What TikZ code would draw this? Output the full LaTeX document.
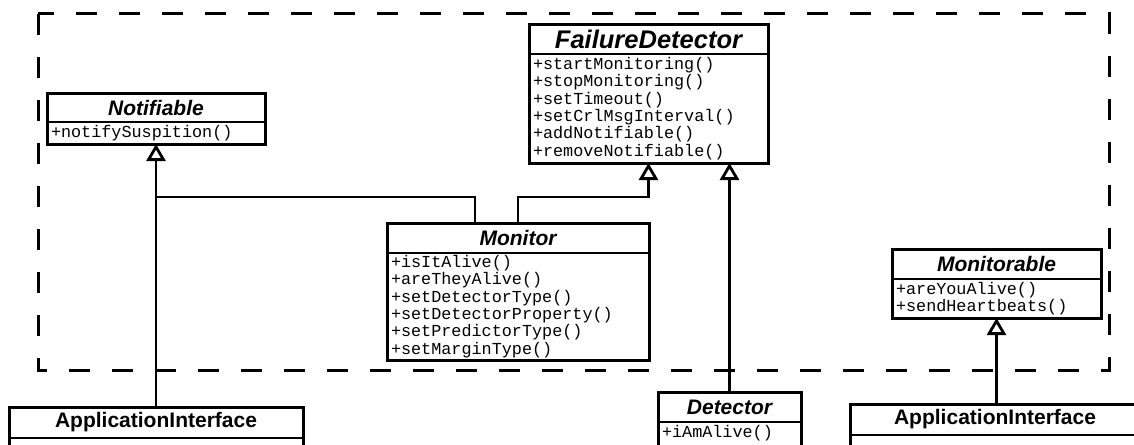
\documentclass[tikz,border=0pt]{standalone}
\usepackage{fontspec}
\setmainfont{Liberation Sans}
\newfontfamily\umlmono{Liberation Mono}
\usetikzlibrary{arrows.meta,calc}
\newcommand\umlhdrfont{\fontsize{21}{25}\selectfont\bfseries\itshape}
\newcommand\umlbighdr{\fontsize{25.5}{29}\selectfont\bfseries\itshape}
\newcommand\umlplainhdr{\fontsize{21}{25}\selectfont\bfseries}
\newcommand\umlmethfont{\umlmono\fontsize{16.8}{17.3}\selectfont}
\tikzset{
  hdr/.style={font=\umlhdrfont, inner sep=0pt, outer sep=0pt, anchor=north west},
  plainhdr/.style={font=\umlplainhdr, inner sep=0pt, outer sep=0pt, anchor=north west},
  meth/.style={font=\umlmethfont, align=left, inner xsep=4pt, inner ysep=0pt, outer sep=0pt, anchor=north west},
  frame/.style={line width=3pt},
  sep/.style={line width=2pt},
  gen/.style={line width=2.8pt, -{Triangle[open, length=17pt, width=19pt]}},
  link/.style={line width=2.8pt},
  dashframe/.style={line width=3pt, dash pattern=on 21pt off 22pt}
}
\begin{document}
\begin{tikzpicture}[x=1pt,y=-1pt]
\useasboundingbox (0,0) rectangle (1134,444);
\clip (0,0) rectangle (1134,444);
\fill[white] (0,0) rectangle (1134,444);

% package frame
\draw[dashframe] (38,14) rectangle (1109,370);

% Notifiable
\node[hdr, minimum width=218pt, minimum height=29pt] (notH) at (47,93) {Notifiable};
\node[meth, text width=210pt, minimum height=22pt] (notM) at (notH.south west) {+notifySuspition()};
\draw[frame] (notH.north west) rectangle (notM.south east);
\draw[sep] (notH.south west) -- (notH.south east);

% FailureDetector
\node[hdr, font=\umlbighdr, minimum width=239pt, minimum height=29pt] (fdH) at (529,25) {FailureDetector};
\node[meth, text width=231pt, minimum height=109pt] (fdM) at (fdH.south west) {+startMonitoring()\\+stopMonitoring()\\+setTimeout()\\+setCrlMsgInterval()\\+addNotifiable()\\+removeNotifiable()};
\draw[frame] (fdH.north west) rectangle (fdM.south east);
\draw[sep] (fdH.south west) -- (fdH.south east);

% Monitor
\node[hdr, minimum width=262pt, minimum height=30pt] (monH) at (387,223) {Monitor};
\node[meth, text width=254pt, minimum height=107pt] (monM) at (monH.south west) {+isItAlive()\\+areTheyAlive()\\+setDetectorType()\\+setDetectorProperty()\\+setPredictorType()\\+setMarginType()};
\draw[frame] (monH.north west) rectangle (monM.south east);
\draw[sep] (monH.south west) -- (monH.south east);

% Monitorable
\node[hdr, minimum width=209pt, minimum height=30pt] (monbH) at (892,249) {Monitorable};
\node[meth, text width=201pt, minimum height=39pt] (monbM) at (monbH.south west) {+areYouAlive()\\+sendHeartbeats()};
\draw[frame] (monbH.north west) rectangle (monbM.south east);
\draw[sep] (monbH.south west) -- (monbH.south east);

% ApplicationInterface (left)
\node[plainhdr, minimum width=294pt, minimum height=31pt] (appLH) at (9,407) {ApplicationInterface};
\node[meth, text width=286pt, minimum height=40pt] (appLM) at (appLH.south west) {};
\draw[frame] (appLH.north west) rectangle (appLM.south east);
\draw[sep] (appLH.south west) -- (appLH.south east);

% Detector
\node[hdr, minimum width=143pt, minimum height=30pt] (detH) at (658,392) {Detector};
\node[meth, text width=135pt, minimum height=22pt] (detM) at (detH.south west) {+iAmAlive()};
\draw[frame] (detH.north west) rectangle ($(detM.south east)+(0,30)$);
\draw[sep] (detH.south west) -- (detH.south east);

% ApplicationInterface (right)
\node[plainhdr, minimum width=290pt, minimum height=31pt] (appRH) at (850,404) {ApplicationInterface};
\node[meth, text width=282pt, minimum height=40pt] (appRM) at (appRH.south west) {};
\draw[frame] (appRH.north west) rectangle (appRM.south east);
\draw[sep] (appRH.south west) -- (appRH.south east);

% connectors
\coordinate (junc) at ($(notM.south)+(0,53)$);
\draw[gen] (appLH.north) -- (notM.south);
\draw[link] ($(monH.north west)+(88,0)$) |- (junc);
\draw[gen] ($(monH.north west)+(131,0)$) |- ($(fdM.south)+(0,34)$) -- (fdM.south);
\draw[gen] (detH.north) -- (detH.north |- fdM.south);
\draw[gen] (appRH.north -| monbM.south) -- (monbM.south);
\end{tikzpicture}
\end{document}
